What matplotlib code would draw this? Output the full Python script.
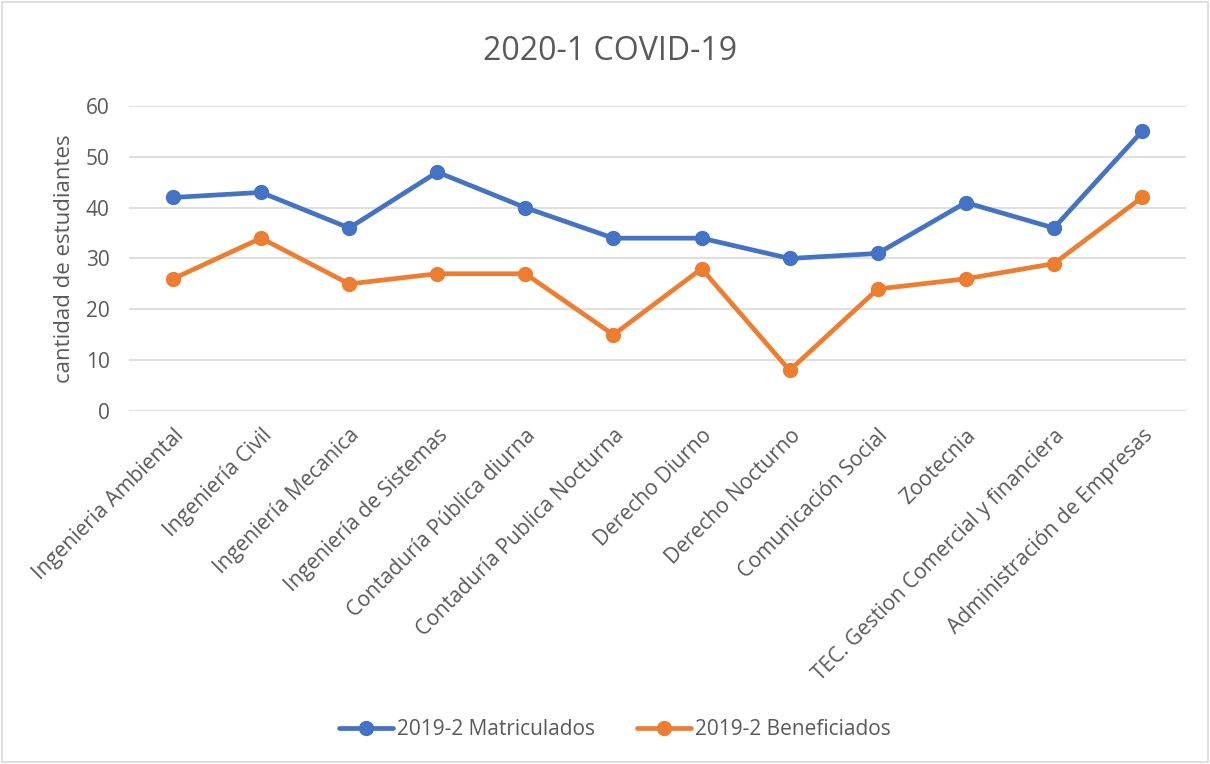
import matplotlib
matplotlib.use("Agg")
import matplotlib.pyplot as plt
from matplotlib.patches import Rectangle

categories = ["Ingenieria Ambiental", "Ingeniería Civil", "Ingeniería Mecanica",
              "Ingeniería de Sistemas", "Contaduría Pública diurna",
              "Contaduría Publica Nocturna", "Derecho Diurno", "Derecho Nocturno",
              "Comunicación Social", "Zootecnia",
              "TEC. Gestion Comercial y financiera", "Administración de Empresas"]
matriculados = [42, 43, 36, 47, 40, 34, 34, 30, 31, 41, 36, 55]
beneficiados = [26, 34, 25, 27, 27, 15, 28, 8, 24, 26, 29, 42]
yticks = [0, 10, 20, 30, 40, 50, 60]

plt.rcParams['font.family'] = ['Open Sans', 'DejaVu Sans']
txt = '#595959'
fig = plt.figure(figsize=(12.1, 7.64), dpi=100)
fig.patches.append(Rectangle((0.002, 0.002), 0.996, 0.996, transform=fig.transFigure,
                             fill=False, edgecolor='#d9d9d9', linewidth=1.2))
ax = fig.add_axes([0.1066, 0.462, 0.8736, 0.3993])
x = list(range(len(categories)))
ax.plot(x, matriculados, color='#4472C4', lw=3.4, marker='o', ms=10, label='2019-2 Matriculados',
        solid_capstyle='round', zorder=3)
ax.plot(x, beneficiados, color='#ED7D31', lw=3.4, marker='o', ms=10, label='2019-2 Beneficiados',
        solid_capstyle='round', zorder=3)
ax.set_xlim(-0.5, len(categories) - 0.5)
ax.set_ylim(0, 60)
ax.set_yticks(yticks)
ax.yaxis.grid(True, color='#d9d9d9', lw=1.2)
ax.set_axisbelow(True)
for s in ax.spines.values():
    s.set_visible(False)
ax.tick_params(length=0, colors=txt, labelsize=15)
ax.tick_params(axis='y', pad=14)
ax.set_xticks(x)
ax.set_xticklabels(categories, rotation=45, ha='right', va='top', rotation_mode='anchor',
                   fontsize=15.2, color=txt)
ax.tick_params(axis='x', pad=10)
ax.set_ylabel('cantidad de estudiantes', fontsize=16, color=txt, labelpad=8)
fig.text(0.504, 0.932, '2020-1 COVID-19', ha='center', va='center', fontsize=23, color=txt)
fig.legend(loc='center', bbox_to_anchor=(0.508, 0.045), ncol=2, frameon=False,
           fontsize=15, labelcolor=txt, handlelength=2.6, handletextpad=0.2, columnspacing=2.0)
fig.savefig('out.png', dpi=100)
